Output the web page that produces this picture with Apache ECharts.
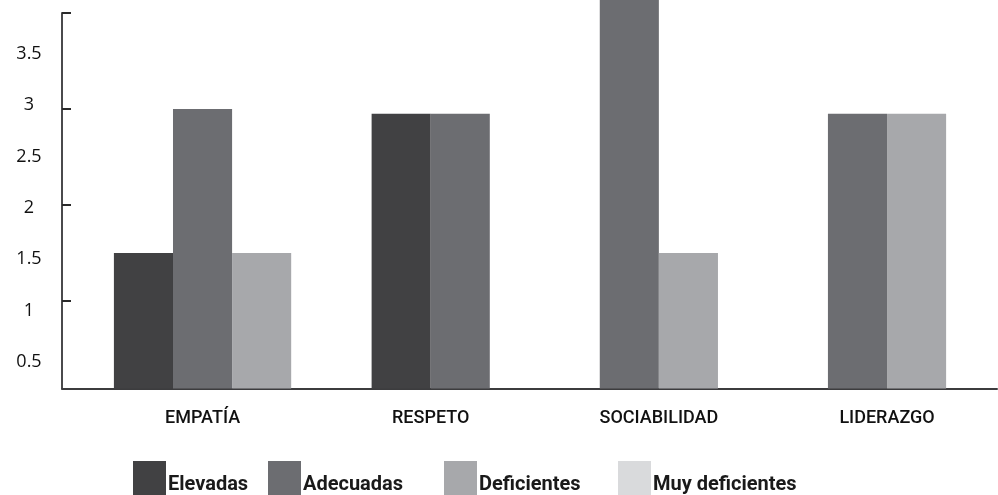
<!DOCTYPE html>
<html>
<head>
<meta charset="utf-8">
<script src="https://cdn.jsdelivr.net/npm/echarts@6/dist/echarts.min.js"></script>
<style>
  html, body { margin: 0; padding: 0; background: #fff; }
  #chart { width: 998px; height: 495px; }
</style>
</head>
<body>
<div id="chart"></div>
<script>
// categorias y niveles
const categories = ['EMPATÍA', 'RESPETO', 'SOCIABILIDAD', 'LIDERAZGO'];
const levels = ['Elevadas', 'Adecuadas', 'Deficientes', 'Muy deficientes'];
const colors = ['#414143', '#6c6d71', '#a7a8ab', '#d9dadc'];

// valores por nivel (uno por categoria)
const elevadas = [1.5, 2.95, 0, 0];
const adecuadas = [3, 2.95, 4.5, 2.95];
const deficientes = [1.5, 0, 1.5, 2.95];
const muyDeficientes = [0, 0, 0, 0];

// ticks del eje y y sus etiquetas (las etiquetas van algo desfasadas en el original)
const yTicks = [1, 2, 3, 4];
const yLabels = [0.5, 1, 1.5, 2, 2.5, 3, 3.5];

const seriesValues = [elevadas, adecuadas, deficientes, muyDeficientes];
const Y_MIN = 0.09;
const Y_MAX = 4;

// barras no nulas centradas dentro de cada categoria
function renderBar(params, api) {
    const cat = api.value(0);
    const val = api.value(1);
    const shown = [];
    seriesValues.forEach((v, s) => { if (v[cat] > 0) shown.push(s); });
    const k = shown.indexOf(params.seriesIndex);
    if (k < 0) return;
    const w = api.size([1, 0])[0] * 0.259;
    const base = api.coord([cat, Y_MIN]);
    const top = api.coord([cat, val]);
    const x = base[0] - shown.length * w / 2 + k * w;
    return {
        type: 'rect',
        shape: { x: x, y: top[1], width: w, height: base[1] - top[1] },
        style: api.style()
    };
}

const legendLeft = [133, 268, 444, 618];

let chart = echarts.init(document.getElementById('chart'));
chart.setOption({
    animation: false,
    grid: {
        left: 62,
        right: 1,
        top: 13,
        bottom: 106.5
    },
    legend: levels.map((name, i) => ({
        data: [name],
        left: legendLeft[i],
        top: 461,
        padding: 0,
        icon: 'rect',
        itemWidth: 33,
        itemHeight: 34,
        itemGap: 0,
        selectedMode: false,
        formatter: '{t|{name}}',
        textStyle: {
            rich: {
                t: {
                    fontFamily: 'Roboto',
                    fontWeight: 'bold',
                    fontSize: 20,
                    color: '#1a1a1a',
                    padding: [13, 0, 0, -3]
                }
            }
        }
    })),
    xAxis: {
        type: 'value',
        min: -0.616,
        max: 3.482,
        axisLine: {
            show: true,
            onZero: false,
            lineStyle: { color: '#3c3c3e', width: 2 }
        },
        axisTick: { show: false },
        splitLine: { show: false },
        axisLabel: {
            customValues: [0, 1, 2, 3],
            formatter: v => categories[v],
            margin: 21,
            fontFamily: 'Roboto',
            fontWeight: 500,
            fontSize: 18,
            color: '#111'
        }
    },
    yAxis: [{
        type: 'value',
        min: Y_MIN,
        max: Y_MAX,
        axisLine: {
            show: true,
            onZero: false,
            lineStyle: { color: '#4a4a4c', width: 2 }
        },
        axisTick: {
            show: true,
            inside: true,
            length: 9,
            customValues: yTicks,
            lineStyle: { color: '#2a2a2a', width: 2 }
        },
        axisLabel: { show: false },
        splitLine: { show: false }
    }, {
        type: 'value',
        position: 'left',
        min: 0.24,
        max: 3.9,
        axisLine: { show: false, onZero: false },
        axisTick: { show: false },
        splitLine: { show: false },
        axisLabel: {
            customValues: yLabels,
            align: 'center',
            margin: 33,
            fontFamily: 'Open Sans',
            fontSize: 18,
            color: '#111'
        }
    }],
    series: levels.map((name, s) => ({
        name: name,
        type: 'custom',
        renderItem: renderBar,
        itemStyle: { color: colors[s] },
        encode: { x: 0, y: 1 },
        data: categories.map((c, i) => [i, seriesValues[s][i]])
    }))
});
</script>
</body>
</html>
